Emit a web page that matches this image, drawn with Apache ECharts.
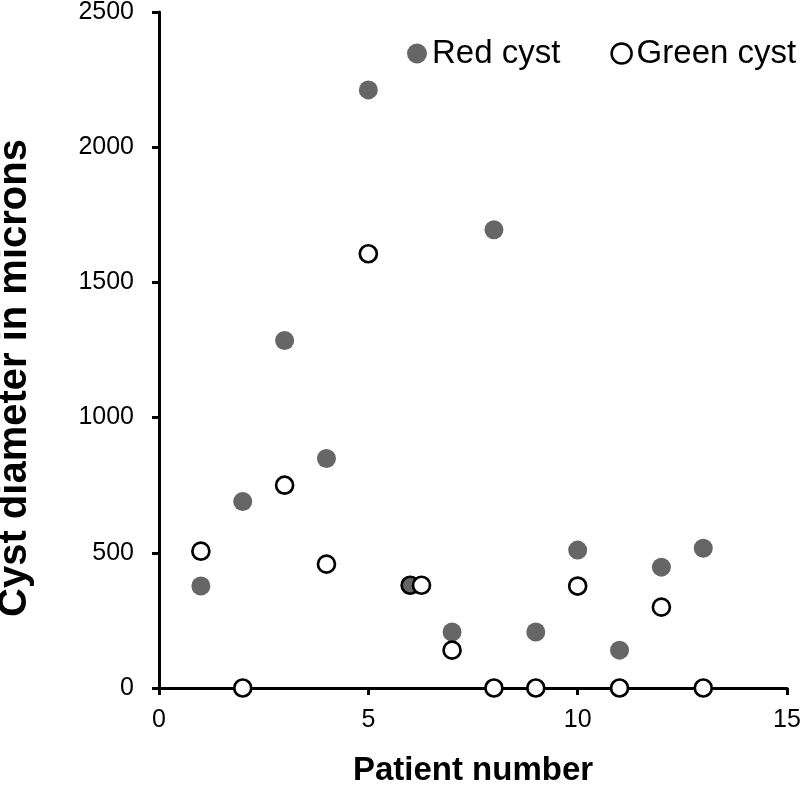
<!DOCTYPE html>
<html>
<head>
<meta charset="utf-8">
<script src="https://cdn.jsdelivr.net/npm/echarts@6/dist/echarts.min.js"></script>
<style>
html,body{margin:0;padding:0;background:#fff;}
#chart{width:800px;height:799px;}
</style>
</head>
<body>
<div id="chart"></div>
<script>
// Data
var redPatients   = [1, 2, 3, 4, 5, 6, 7, 8, 9, 10, 11, 12, 13];
var redDiameters  = [377, 690, 1285, 849, 2212, 380, 207, 1695, 207, 510, 140, 447, 517];
var greenPatients = [1, 2, 3, 4, 5, 6, 6.27, 7, 8, 9, 10, 11, 12, 13];
var greenDiameters= [506, 0, 750, 458, 1606, 380, 380, 140, 0, 0, 377, 0, 299, 0];
var xTicks = [0, 5, 10, 15];
var yTicks = [0, 500, 1000, 1500, 2000, 2500];
var seriesNames = ['Red cyst', 'Green cyst'];
var xTitle = 'Patient number';
var yTitle = 'Cyst diameter in microns';

var FONT = '"Liberation Sans", Arial, sans-serif';

function pairs(xs, ys) {
  return xs.map(function (x, i) { return [x, ys[i]]; });
}
var greenData = pairs(greenPatients, greenDiameters).map(function (p, i) {
  // the first ring at patient 6 lets the grey marker show through
  if (greenPatients[i] === 6) {
    return { value: p, itemStyle: { color: 'rgba(255,255,255,0)' } };
  }
  return p;
});

var chart = echarts.init(document.getElementById('chart'), null, { renderer: 'canvas' });
var axisLine = { show: true, lineStyle: { color: '#000', width: 3 } };
chart.setOption({
  animation: false,
  backgroundColor: '#fff',
  grid: { left: 159, right: 13, top: 12, bottom: 111, containLabel: false, outerBoundsMode: 'none' },
  legend: {
    orient: 'horizontal',
    left: 402, top: 32, width: 398,
    itemWidth: 20, itemHeight: 20, itemGap: 50,
    icon: 'circle',
    textStyle: { fontFamily: FONT, fontSize: 33, color: '#000' },
    data: [
      { name: seriesNames[0], icon: 'circle' },
      { name: seriesNames[1], icon: 'circle', itemStyle: { color: '#fff', borderColor: '#000', borderWidth: 2.5 } }
    ]
  },
  xAxis: {
    type: 'value', min: xTicks[0], max: xTicks[xTicks.length - 1], interval: 5,
    axisLine: axisLine,
    axisTick: { show: true, inside: false, length: 7, lineStyle: { color: '#000', width: 3 } },
    splitLine: { show: false },
    axisLabel: { margin: 20, fontFamily: FONT, fontSize: 25, color: '#000', formatter: function (v) { return String(v); } },
    name: xTitle, nameLocation: 'middle', nameGap: 66,
    nameTextStyle: { fontFamily: FONT, fontSize: 33, fontWeight: 'bold', color: '#000' }
  },
  yAxis: {
    type: 'value', min: yTicks[0], max: yTicks[yTicks.length - 1], interval: 500,
    axisLine: axisLine,
    axisTick: { show: true, inside: false, length: 7, lineStyle: { color: '#000', width: 3 } },
    splitLine: { show: false },
    axisLabel: { margin: 25, fontFamily: FONT, fontSize: 25, color: '#000', formatter: function (v) { return String(v); } },
    name: yTitle, nameLocation: 'middle', nameGap: 124, nameRotate: 90,
    nameTextStyle: { fontFamily: FONT, fontSize: 40, fontWeight: 'bold', color: '#000', padding: [0, 56, 0, 0] }
  },
  series: [
    {
      name: seriesNames[0], type: 'scatter', symbol: 'circle', symbolSize: 19, z: 2,
      itemStyle: { color: '#666666', opacity: 1 },
      data: pairs(redPatients, redDiameters)
    },
    {
      name: seriesNames[1], type: 'scatter', symbol: 'circle', symbolSize: 17, z: 3,
      itemStyle: { color: '#ffffff', borderColor: '#000', borderWidth: 2.7, opacity: 1 },
      data: greenData
    }
  ]
});
</script>
</body>
</html>
